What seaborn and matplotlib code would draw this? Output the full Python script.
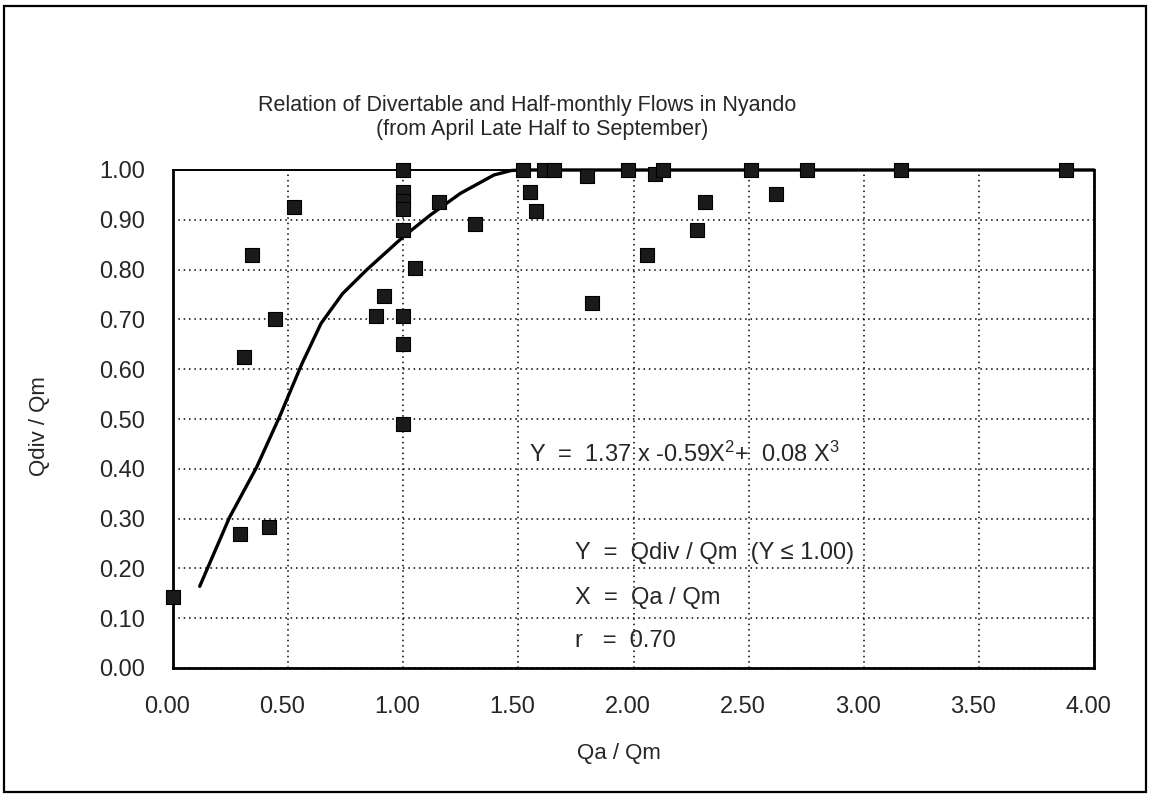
import numpy as np
import pandas as pd
import matplotlib
matplotlib.use("Agg")
import matplotlib.pyplot as plt
import matplotlib.patches as mpatches
from matplotlib.transforms import ScaledTranslation
import seaborn as sns

# ---- data ----
x_obs = [0.00, 0.29, 0.31, 0.345, 0.415, 0.445, 0.525, 0.88, 0.915,
         1.00, 1.00, 1.00, 1.00, 1.00, 1.00, 1.00, 1.00,
         1.05, 1.155, 1.31, 1.52, 1.55, 1.575, 1.61, 1.655,
         1.80, 1.82, 1.975, 2.06, 2.095, 2.13, 2.275, 2.31,
         2.51, 2.62, 2.755, 3.16, 3.88]
y_obs = [0.143, 0.269, 0.624, 0.829, 0.284, 0.70, 0.926, 0.707, 0.746,
         1.00, 0.956, 0.938, 0.922, 0.879, 0.707, 0.65, 0.49,
         0.804, 0.936, 0.891, 1.00, 0.956, 0.917, 1.00, 1.00,
         0.987, 0.733, 1.00, 0.829, 0.992, 1.00, 0.879, 0.936,
         1.00, 0.952, 1.00, 1.00, 1.00]

x_curve = [0.116, 0.245, 0.363, 0.468, 0.496, 0.56, 0.643, 0.737, 0.84,
           1.00, 1.116, 1.248, 1.394, 1.469, 1.52, 4.00]
y_curve = [0.164, 0.302, 0.403, 0.51, 0.541, 0.611, 0.692, 0.752, 0.799,
           0.866, 0.909, 0.953, 0.99, 0.999, 1.00, 1.00]

x_ticks = [0.0, 0.5, 1.0, 1.5, 2.0, 2.5, 3.0, 3.5, 4.0]
y_ticks = [0.0, 0.1, 0.2, 0.3, 0.4, 0.5, 0.6, 0.7, 0.8, 0.9, 1.0]

title1 = "Relation of Divertable and Half-monthly Flows in Nyando"
title2 = "(from April Late Half to September)"
xlabel = "Qa / Qm"
ylabel = "Qdiv / Qm"
eq_text = "Y  =  1.37 x -0.59X$^{2}$+  0.08 X$^{3}$"
def_y = "Y  =  Qdiv / Qm  (Y \u2264 1.00)"
def_x = "X  =  Qa / Qm"
r_text = "r   =  0.70"

obs = pd.DataFrame({"x": x_obs, "y": y_obs})
curve = pd.DataFrame({"x": x_curve, "y": y_curve})

sns.set_style("white")
plt.rcParams["font.family"] = ["Liberation Sans", "DejaVu Sans"]
plt.rcParams["mathtext.fontset"] = "custom"
plt.rcParams["mathtext.rm"] = "Liberation Sans"
plt.rcParams["mathtext.it"] = "Liberation Sans"
plt.rcParams["mathtext.bf"] = "Liberation Sans"

fig = plt.figure(figsize=(11.49, 7.95), dpi=100)
ax = fig.add_axes([173 / 1149, 1 - 668 / 795, (1094 - 173) / 1149, (668 - 170) / 795])

# figure border
fig.patches.append(mpatches.Rectangle((4 / 1149, 3 / 795), 1142 / 1149, 786 / 795,
                                      transform=fig.transFigure, fill=False,
                                      edgecolor="black", linewidth=1.6))

sns.lineplot(data=curve, x="x", y="y", ax=ax, sort=False, estimator=None,
             color="black", linewidth=2.4, clip_on=False, zorder=3)
sns.scatterplot(data=obs, x="x", y="y", ax=ax, marker="s", s=110,
                color="#1a1a1a", edgecolor="black", linewidth=0.8,
                clip_on=False, zorder=4)

ax.set_xlim(0, 4)
ax.set_ylim(0, 1)
ax.set_xticks(x_ticks)
ax.set_yticks(y_ticks)
ax.set_xticklabels([f"{v:.2f}" for v in x_ticks], fontsize=17)
ax.set_yticklabels([f"{v:.2f}" for v in y_ticks], fontsize=17)
ax.tick_params(axis="both", length=0, pad=20)
for lab in ax.get_xticklabels():
    lab.set_transform(lab.get_transform() + ScaledTranslation(-0.06, 0, fig.dpi_scale_trans))
ax.set_xlabel("")
ax.set_ylabel("")

ax.grid(True, color="black", linestyle=(0, (1, 2.5)), linewidth=1.1)
ax.set_axisbelow(True)
for sp in ax.spines.values():
    sp.set_color("black")
    sp.set_linewidth(2.0)
ax.spines["top"].set_linewidth(1.4)

fig.text(527 / 1149, 1 - 106 / 795, title1, ha="center", va="center", fontsize=15.5)
fig.text(542 / 1149, 1 - 129 / 795, title2, ha="center", va="center", fontsize=15.5)
fig.text(619 / 1149, 1 - 753 / 795, xlabel, ha="center", va="center", fontsize=16)
fig.text(40 / 1149, 1 - 426 / 795, ylabel, ha="center", va="center", fontsize=16, rotation=90)

ax.text(1.545, 0.43, eq_text, ha="left", va="center", fontsize=17)
ax.text(1.747, 0.231, def_y, ha="left", va="center", fontsize=17)
ax.text(1.747, 0.141, def_x, ha="left", va="center", fontsize=17)
ax.text(1.747, 0.054, r_text, ha="left", va="center", fontsize=17)

fig.savefig("out.png", dpi=100)
